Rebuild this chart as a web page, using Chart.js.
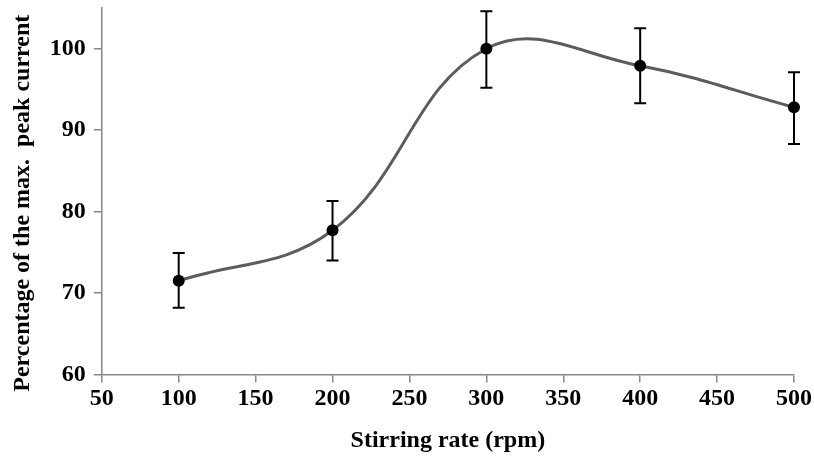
<!DOCTYPE html>
<html>
<head>
<meta charset="utf-8">
<script src="https://cdn.jsdelivr.net/npm/chart.js@4.4.1/dist/chart.umd.min.js"></script>
<style>
  html, body { margin: 0; padding: 0; background: #ffffff; }
  #wrap { width: 814px; height: 463px; }
</style>
</head>
<body>
<div id="wrap"><canvas id="chart" width="814" height="463"></canvas></div>
<script>
// values
const rates = [100, 200, 300, 400, 500];
const peakPct = [71.5, 77.7, 100, 97.9, 92.8];
const errUpper = [74.9, 81.3, 104.6, 102.5, 97.1];
const errLower = [68.2, 74.0, 95.2, 93.3, 88.3];
const xTicks = [50, 100, 150, 200, 250, 300, 350, 400, 450, 500];
const yTicks = [60, 70, 80, 90, 100];

const axisGray = '#888888';
const fontFamily = '"Liberation Serif", "Times New Roman", serif';

// draws vertical error bars with caps at each point
const errorBars = {
    id: 'errorBars',
    afterDatasetsDraw(chart) {
        const ctx = chart.ctx;
        const xs = chart.scales.x;
        const ys = chart.scales.y;
        ctx.save();
        ctx.strokeStyle = '#000000';
        ctx.lineWidth = 2;
        for (let i = 0; i < rates.length; i++) {
            const x = xs.getPixelForValue(rates[i]);
            const yTop = ys.getPixelForValue(errUpper[i]);
            const yBot = ys.getPixelForValue(errLower[i]);
            ctx.beginPath();
            ctx.moveTo(x, yTop);
            ctx.lineTo(x, yBot);
            ctx.moveTo(x - 6, yTop);
            ctx.lineTo(x + 6, yTop);
            ctx.moveTo(x - 6, yBot);
            ctx.lineTo(x + 6, yBot);
            ctx.stroke();
        }
        // redraw markers on top of the bars
        ctx.fillStyle = '#000000';
        for (let i = 0; i < rates.length; i++) {
            ctx.beginPath();
            ctx.arc(xs.getPixelForValue(rates[i]), ys.getPixelForValue(peakPct[i]), 6, 0, Math.PI * 2);
            ctx.fill();
        }
        ctx.restore();
    }
};

new Chart(document.getElementById('chart'), {
    type: 'line',
    data: {
        datasets: [{
            label: 'Peak current',
            data: rates.map((r, i) => ({ x: r, y: peakPct[i] })),
            borderColor: '#5c5c5c',
            borderWidth: 3,
            tension: 0.4,
            pointRadius: 0,
            fill: false
        }]
    },
    options: {
        responsive: false,
        animation: false,
        layout: { padding: { top: 0, right: 20, bottom: 8, left: 8 } },
        plugins: {
            legend: { display: false },
            tooltip: { enabled: false }
        },
        scales: {
            x: {
                type: 'linear',
                min: 50,
                max: 500,
                afterBuildTicks: (s) => { s.ticks = xTicks.map(v => ({ value: v })); },
                grid: { drawOnChartArea: false, drawTicks: true, tickLength: 8, color: axisGray, lineWidth: 1.5 },
                border: { color: axisGray, width: 1.5 },
                ticks: { color: '#000000', padding: 2, maxRotation: 0, font: { family: fontFamily, size: 24, weight: 'bold' } },
                title: {
                    display: true,
                    text: 'Stirring rate (rpm)',
                    color: '#000000',
                    padding: { top: 11, bottom: 0 },
                    font: { family: fontFamily, size: 24, weight: 'bold' }
                }
            },
            y: {
                min: 60,
                max: 105,
                afterBuildTicks: (s) => { s.ticks = yTicks.map(v => ({ value: v })); },
                grid: { drawOnChartArea: false, drawTicks: true, tickLength: 8, color: axisGray, lineWidth: 1.5 },
                border: { color: axisGray, width: 1.5 },
                ticks: { color: '#000000', padding: 8, font: { family: fontFamily, size: 24, weight: 'bold', lineHeight: 0 } },
                title: {
                    display: true,
                    // trailing spaces push the rotated title down, as in the reference
                    text: 'Percentage of the max.  peak current    ',
                    color: '#000000',
                    padding: { top: 0, bottom: 5 },
                    font: { family: fontFamily, size: 24, weight: 'bold' }
                }
            }
        }
    },
    plugins: [errorBars]
});
</script>
</body>
</html>
